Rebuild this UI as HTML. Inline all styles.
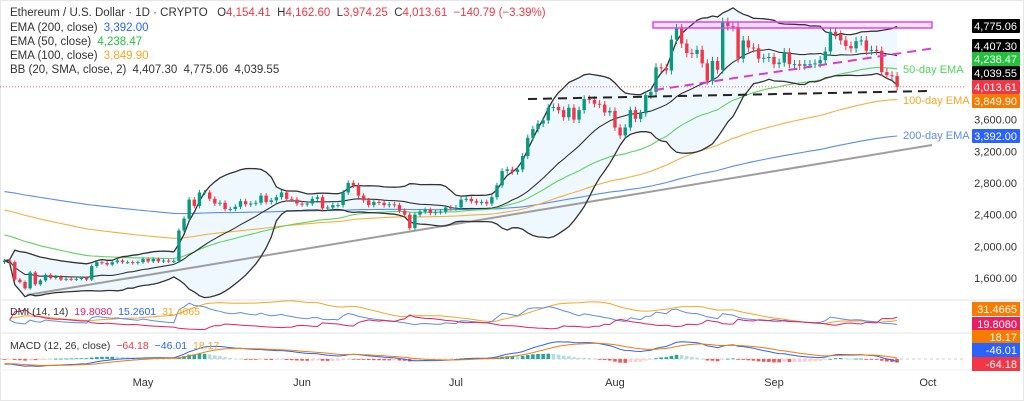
<!DOCTYPE html>
<html><head><meta charset="utf-8">
<style>
body{margin:0;background:#fff;font-family:"Liberation Sans",sans-serif;}
#wrap{position:relative;width:1024px;height:401px;overflow:hidden;background:#fff;}
.hd{position:absolute;left:10px;font-size:11.5px;color:#333;white-space:nowrap;}
.hd span{margin-left:3px}
</style></head><body>
<div id="wrap">
<svg id="svg" width="1024" height="401" style="position:absolute;left:0;top:0"></svg>
<div class="hd" style="top:7px">Ethereum / U.S. Dollar · 1D · CRYPTO &nbsp;<span style="color:#333">O</span><span style="color:#f23645;margin:0">4,154.41</span> &nbsp;H<span style="color:#f23645;margin:0">4,162.60</span> &nbsp;L<span style="color:#f23645;margin:0">3,974.25</span> &nbsp;C<span style="color:#f23645;margin:0">4,013.61</span> <span style="color:#f23645">−140.79 (−3.39%)</span></div>
<div class="hd" style="top:22px">EMA (200, close) <span style="color:#2962ff">3,392.00</span></div>
<div class="hd" style="top:36px">EMA (50, close) <span style="color:#22c33a">4,238.47</span></div>
<div class="hd" style="top:50px">EMA (100, close) <span style="color:#f5a623">3,849.90</span></div>
<div class="hd" style="top:64px">BB (20, SMA, close, 2) <span>4,407.30</span> <span>4,775.06</span> <span>4,039.55</span></div>
<div class="hd" style="top:306px;font-size:10.5px">DMI (14, 14) <span style="color:#e91e63">19.8080</span> <span style="color:#2962ff">15.2601</span> <span style="color:#f5a623">31.4665</span></div>
<div class="hd" style="top:340px;font-size:10.5px">MACD (12, 26, close) <span style="color:#f23645">−64.18</span> <span style="color:#2962ff">−46.01</span> <span style="color:#f5a623">18.17</span></div>
</div>
<script>
const closesApr=[1820,1800,1580,1550,1470,1670,1520,1570,1640,1600,1620,1580,1590,1580,1590,1600,1580,1750,1800,1790,1770,1800,1820,1800,1800,1790,1800];
const closesMay=[1840,1810,1840,1810,1820,1810,1815,2200,2350,2590,2510,2680,2680,2600,2540,2550,2470,2470,2500,2570,2530,2540,2550,2640,2560,2580,2620,2680,2600,2590,2540];
const closesJun=[2530,2540,2600,2620,2480,2490,2520,2520,2680,2800,2770,2640,2580,2520,2560,2550,2520,2530,2520,2450,2400,2230,2400,2440,2460,2420,2430,2440,2490,2480];
const closesJul=[2490,2590,2600,2570,2550,2560,2540,2620,2770,2950,2970,2940,2970,3140,3370,3480,3550,3590,3750,3760,3720,3630,3750,3600,3720,3860,3850,3800,3790,3690,3710];
const closesAug=[3500,3400,3500,3720,3610,3680,3910,3950,4260,4250,4220,4610,4750,4560,4440,4430,4480,4310,4090,4340,4230,4830,4780,4770,4370,4600,4510,4500,4370,4380,4390];
const closesSep=[4300,4320,4450,4300,4300,4280,4300,4300,4310,4350,4460,4710,4670,4600,4530,4500,4590,4600,4470,4480,4470,4200,4160,4150,4013.61];
const firstOpen=1800;
const emaSeeds=[2700,2470,2155]; // EMA200, EMA100, EMA50 at start
const priceTicks=[1600,2000,2400,2800,3200,3600];
const monthLabels=["May","Jun","Jul","Aug","Sep","Oct"];
const monthOffsets=[27,58,88,119,150,180];
const rightLabels=[["4,775.06","#000"],["4,407.30","#000"],["4,238.47","#22c33a"],["4,039.55","#000"],["4,013.61","#f23645"],["3,849.90","#f57c00"],["3,392.00","#2962ff"]];
const rightLabelY=[26,46,59,73,87,101,136];

const closes=[].concat(closesApr,closesMay,closesJun,closesJul,closesAug,closesSep);
const N=closes.length;
const X=i=>4.5+i*5.13;
const Y=p=>278-(p-1600)*0.0792;
const svg=document.getElementById('svg');
const NS='http://www.w3.org/2000/svg';
function mk(tag,attrs,parent){const e=document.createElementNS(NS,tag);for(const k in attrs)e.setAttribute(k,attrs[k]);(parent||svg).appendChild(e);return e;}
function poly(pts,stroke,w,extra){return mk('polyline',Object.assign({points:pts.map(p=>p[0].toFixed(1)+','+p[1].toFixed(1)).join(' '),fill:'none',stroke:stroke,'stroke-width':w},extra||{}));}

let e;
e=mk('rect',{x:0.5,y:0.5,width:1023,height:400,fill:'none',stroke:'#e6e6e6'});

e=mk('line',{x1:0,x2:1024,y1:300,y2:300,stroke:'#e0e3eb'});

e=mk('line',{x1:0,x2:1024,y1:333,y2:333,stroke:'#e0e3eb'});

e=mk('line',{x1:0,x2:1024,y1:370,y2:370,stroke:'#eef0f3'});


const opens=closes.map((c,i)=>i?closes[i-1]:firstOpen);
const highs=closes.map((c,i)=>Math.max(c,opens[i])*1.012);
const lows=closes.map((c,i)=>Math.min(c,opens[i])*0.988);

function ema(arr,n,seed){const k=2/(n+1);let v=seed;return arr.map(c=>v=v+k*(c-v));}
const ema200=ema(closes,200,emaSeeds[0]),ema100=ema(closes,100,emaSeeds[1]),ema50=ema(closes,50,emaSeeds[2]);
const bbU=[],bbL=[],bbM=[];
for(let i=0;i<N;i++){const s=closes.slice(Math.max(0,i-19),i+1);const m=s.reduce((a,b)=>a+b,0)/s.length;const sd=Math.sqrt(s.reduce((a,b)=>a+(b-m)*(b-m),0)/s.length);bbM.push(m);bbU.push(m+2*sd);bbL.push(m-2*sd);}
e=mk('polygon',{points:bbU.map((v,i)=>X(i)+','+Y(v)).concat(bbL.map((v,i)=>X(i)+','+Y(v)).reverse()).join(' '),fill:'rgba(33,150,243,0.07)',stroke:'none'});


e=mk('line',{x1:0,x2:965,y1:Y(4013.61),y2:Y(4013.61),stroke:'#f23645','stroke-width':0.8,'stroke-dasharray':'1 2'});


e=mk('line',{x1:27,y1:295,x2:932,y2:145,stroke:'#9e9e9e','stroke-width':2});


e=poly(ema200.map((v,i)=>[X(i),Y(v)]),'#5b8def',1.1);
e=poly(ema100.map((v,i)=>[X(i),Y(v)]),'#f5b041',1.1);
e=poly(ema50.map((v,i)=>[X(i),Y(v)]),'#5fd35f',1.1);
e=poly(bbU.map((v,i)=>[X(i),Y(v)]),'#333',1.3);
e=poly(bbL.map((v,i)=>[X(i),Y(v)]),'#333',1.3);
e=poly(bbM.map((v,i)=>[X(i),Y(v)]),'#333',1.1);

for(let i=0;i<N;i++){
  const up=closes[i]>=opens[i];const col=up?'#089981':'#f23645';const x=X(i);
  const g=mk('g',{});
  
  
  mk('line',{x1:x,x2:x,y1:Y(highs[i]),y2:Y(lows[i]),stroke:col,'stroke-width':1},g);
  const t=Y(Math.max(opens[i],closes[i])),b=Y(Math.min(opens[i],closes[i]));
  mk('rect',{x:x-1.7,y:t,width:3.4,height:Math.max(1,b-t),fill:col},g);
}

e=mk('rect',{x:653,y:22,width:279,height:6,fill:'rgba(233,30,200,0.12)',stroke:'#e040fb','stroke-width':1.5});

e=mk('line',{x1:655,y1:90,x2:935,y2:48,stroke:'#d63bd6','stroke-width':2,'stroke-dasharray':'9 6'});

e=mk('line',{x1:528,y1:99,x2:930,y2:91,stroke:'#222','stroke-width':2,'stroke-dasharray':'9 6'});

const notes=[["50-day EMA","#4cd35a",73],["100-day EMA","#f5a623",104],["200-day EMA","#5b8def",139]];
notes.forEach(n=>{e=mk('text',{x:903,y:n[2],fill:n[1],'font-size':11});e.textContent=n[0];
});

priceTicks.forEach(p=>{e=mk('text',{x:1017,y:Y(p)+4,'text-anchor':'end','font-size':11,fill:'#333'});e.textContent=p.toLocaleString('en-US')+'.00';
});
rightLabels.forEach((r,i)=>{const g=mk('g',{});
mk('rect',{x:972,y:rightLabelY[i]-7,width:48,height:14,fill:r[1],rx:1},g);const t=mk('text',{x:1017,y:rightLabelY[i]+4,'text-anchor':'end','font-size':11,fill:'#fff'},g);t.textContent=r[0];});

monthLabels.forEach((m,i)=>{e=mk('text',{x:X(monthOffsets[i]),y:386,'text-anchor':'middle','font-size':11,fill:'#333'});e.textContent=m;
});

const pdi=[],mdi=[],adx=[];
{let trS=0,pS=0,mS=0,adxV=25;for(let i=1;i<N;i++){const up=highs[i]-highs[i-1],dn=lows[i-1]-lows[i];const pdm=(up>dn&&up>0)?up:0,mdm=(dn>up&&dn>0)?dn:0;
const tr=Math.max(highs[i]-lows[i],Math.abs(highs[i]-closes[i-1]),Math.abs(lows[i]-closes[i-1]));
if(i===1){trS=tr*14;pS=pdm*14+tr*3;mS=mdm*14+tr*3;}
trS=trS-trS/14+tr;pS=pS-pS/14+pdm;mS=mS-mS/14+mdm;const p=100*pS/trS,m=100*mS/trS;const dx=100*Math.abs(p-m)/Math.max(1e-6,p+m);adxV=adxV+(dx-adxV)/14;pdi.push([i,p]);mdi.push([i,m]);adx.push([i,adxV]);}}
const DY=v=>331-v*0.55;
e=poly(adx.map(a=>[X(a[0]),DY(a[1])]),'#f5a623',1);
e=poly(pdi.map(a=>[X(a[0]),DY(a[1])]),'#5b8def',1);
e=poly(mdi.map(a=>[X(a[0]),DY(a[1])]),'#e91e63',1);
[["31.4665","#f57c00",309],["19.8080","#e91e63",324]].forEach(r=>{const g=mk('g',{});
mk('rect',{x:972,y:r[2]-7,width:48,height:14,fill:r[1]},g);const t=mk('text',{x:1017,y:r[2]+4,'text-anchor':'end','font-size':11,fill:'#fff'},g);t.textContent=r[0];});

const e12=ema(closes,12,1850),e26=ema(closes,26,1950);
const macd=closes.map((c,i)=>e12[i]-e26[i]);const sig=ema(macd,9,-80);
const MY=v=>359-v*0.055;
e=mk('line',{x1:0,x2:965,y1:359,y2:359,stroke:'#bbb','stroke-dasharray':'3 3','stroke-width':0.8});

for(let i=0;i<N;i++){const h=macd[i]-sig[i];const prev=i?macd[i-1]-sig[i-1]:0;
const col=h>=0?(h>=prev?'#26a69a':'#b2dfdb'):(h<prev?'#ff5252':'#ffcdd2');
e=mk('rect',{x:X(i)-1.8,y:Math.min(MY(h),359),width:3.6,height:Math.max(0.8,Math.abs(MY(h)-359)),fill:col});
}
e=poly(macd.map((v,i)=>[X(i),MY(v)]),'#2962ff',1);
e=poly(sig.map((v,i)=>[X(i),MY(v)]),'#f57c00',1);
[["18.17","#f57c00",337],["-46.01","#2962ff",350],["-64.18","#f23645",364]].forEach(r=>{const g=mk('g',{});
mk('rect',{x:972,y:r[2]-7,width:48,height:14,fill:r[1]},g);const t=mk('text',{x:1017,y:r[2]+4,'text-anchor':'end','font-size':11,fill:'#fff'},g);t.textContent=r[0];});
</script>
</body></html>
